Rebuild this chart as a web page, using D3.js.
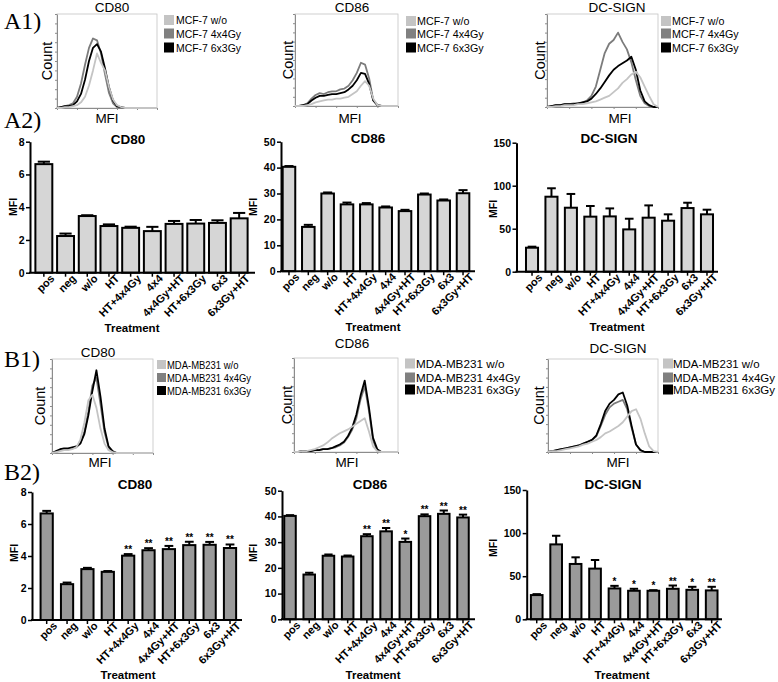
<!DOCTYPE html>
<html><head><meta charset="utf-8">
<script src="https://cdn.jsdelivr.net/npm/d3@7"></script>
<style>body{margin:0;background:#fff}svg{display:block}</style>
</head><body>
<svg id="c" width="778" height="682"></svg>
<script>
// ---------- DATA ----------
const treatments = ["pos","neg","w/o","HT","HT+4x4Gy","4x4","4x4Gy+HT","HT+6x3Gy","6x3","6x3Gy+HT"];

// A2: MCF-7
const mcfCD80    = [6.63, 2.24, 3.46, 2.85, 2.74, 2.54, 2.98, 3.00, 3.04, 3.32];
const mcfCD80Err = [0.15, 0.15, 0.05, 0.10, 0.07, 0.26, 0.18, 0.22, 0.16, 0.33];
const mcfCD86    = [40.3, 17.1, 30.0, 25.8, 25.8, 24.6, 23.2, 29.6, 27.3, 30.1];
const mcfCD86Err = [0.3, 0.8, 0.4, 0.7, 0.5, 0.4, 0.5, 0.4, 0.4, 1.2];
const mcfDC      = [27.9, 87.2, 74.4, 64.0, 64.3, 49.2, 62.8, 59.3, 74.0, 66.7];
const mcfDCErr   = [1.2, 9.8, 16.0, 12.4, 9.3, 12.4, 14.3, 7.4, 6.2, 5.4];

// B2: MDA-MB231
const mdaCD80    = [6.66, 2.24, 3.18, 3.01, 4.02, 4.36, 4.43, 4.68, 4.70, 4.50];
const mdaCD80Err = [0.16, 0.10, 0.08, 0.05, 0.10, 0.13, 0.20, 0.21, 0.18, 0.22];
const mdaCD80Sig = ["","","","","**","**","**","**","**","**"];
const mdaCD86    = [40.2, 17.4, 24.7, 24.4, 32.3, 34.2, 30.1, 40.1, 41.0, 39.6];
const mdaCD86Err = [0.3, 0.7, 0.5, 0.4, 0.8, 1.3, 1.3, 0.7, 1.3, 1.1];
const mdaCD86Sig = ["","","","","**","**","*","**","**","**"];
const mdaDC      = [28.1, 86.9, 64.2, 58.8, 35.8, 33.1, 33.1, 35.4, 34.2, 33.5];
const mdaDCErr   = [1.1, 10.0, 7.7, 10.0, 3.0, 2.3, 0.7, 3.8, 3.5, 4.2];
const mdaDCSig   = ["","","","","*","*","*","**","*","**"];

const tick8 = [0, 2, 4, 6, 8];
const tick50 = [0, 10, 20, 30, 40, 50];
const tick150 = [0, 50, 100, 150];

// Histogram bins (relative MFI) and counts (relative, %)
const mfiBins = [0,4,8,12,16,20,24,28,32,36,40,44,48,52,56,60,64,68,72,76,80,84,88,92,96,100];

const mcfLegend = ["MCF-7 w/o", "MCF-7 4x4Gy", "MCF-7 6x3Gy"];
const mdaLegend = ["MDA-MB231 w/o", "MDA-MB231 4x4Gy", "MDA-MB231 6x3Gy"];

// A1 CD80
const a1CD80Wo  = [0,0,1,1,2,3,6,12,24,40,58,48,40,22,9,3,1,0,0,0,0,0,0,0,0,0];
const a1CD80G4  = [0,1,2,3,5,12,26,46,64,74,72,58,36,16,5,1,0,0,0,0,0,0,0,0,0,0];
const a1CD80G6  = [0,1,2,2,3,7,15,30,50,64,68,60,42,22,8,2,1,0,0,0,0,0,0,0,0,0];
// A1 CD86
const a1CD86Wo  = [0,0,0,1,2,4,5,6,7,7,8,8,9,10,13,16,22,27,22,8,1,0,0,0,0,0];
const a1CD86G4  = [0,0,1,3,8,12,14,13,15,16,16,18,19,22,28,36,47,45,30,6,1,0,0,0,0,0];
const a1CD86G6  = [0,0,1,2,6,9,11,11,12,13,13,14,15,18,22,28,36,35,24,6,1,0,0,0,0,0];
// A1 DC-SIGN
const a1DCWo    = [0,0,1,1,2,2,2,3,3,4,5,6,8,10,12,16,20,26,30,35,38,32,22,12,3,0];
const a1DCG4    = [0,1,2,2,3,3,4,4,5,7,12,22,40,58,68,72,80,70,62,48,29,12,4,1,0,0];
const a1DCG6    = [0,1,2,2,3,3,3,4,5,6,9,14,20,27,34,40,44,47,50,54,40,18,6,2,0,0];
// B1 CD80
const b1CD80Wo  = [0,1,2,3,3,4,6,14,32,56,62,48,26,10,3,1,0,0,0,0,0,0,0,0,0,0];
const b1CD80G4  = [0,1,3,4,4,5,6,10,22,44,72,80,52,22,6,1,0,0,0,0,0,0,0,0,0,0];
const b1CD80G6  = [0,2,4,5,5,6,7,10,20,40,66,88,60,26,7,2,0,0,0,0,0,0,0,0,0,0];
// B1 CD86
const b1CD86Wo  = [0,0,1,1,2,3,5,7,10,14,17,20,22,24,27,30,33,36,22,6,1,0,0,0,0,0];
const b1CD86G4  = [0,0,1,1,1,2,2,3,3,4,5,7,10,16,24,36,56,70,44,12,2,0,0,0,0,0];
const b1CD86G6  = [0,0,1,1,1,2,2,3,3,4,6,8,11,17,26,40,60,76,48,15,3,0,0,0,0,0];
// B1 DC-SIGN
const b1DCWo    = [0,1,1,2,3,4,5,6,8,9,11,13,16,20,22,25,28,32,38,44,46,36,20,6,1,0];
const b1DCG4    = [0,1,2,3,4,5,6,7,9,11,13,17,28,40,48,52,54,56,46,26,8,2,0,0,0,0];
const b1DCG6    = [0,1,2,3,4,5,6,7,9,11,13,18,30,44,52,56,62,64,50,28,8,2,0,0,0,0];

// ---------- DRAWING ----------
const FONT = "'Liberation Sans', Arial, Helvetica, sans-serif";
const svg = d3.select("#c");
svg.append("rect").attr("width",778).attr("height",682).attr("fill","#fff");

function panelLabel(txt, x, y){
  svg.append("text").attr("x",x).attr("y",y).text(txt)
    .attr("font-family","'Liberation Serif','Times New Roman',serif").attr("font-size",24).attr("fill","#000");
}
panelLabel("A1)", 4, 29);
panelLabel("A2)", 4, 128);
panelLabel("B1)", 4, 367);
panelLabel("B2)", 4, 480);

function histPanel(c){
  const g = svg.append("g");
  const x = d3.scaleLinear().domain([0,100]).range([c.l, c.r]);
  const y = d3.scaleLinear().domain([0,100]).range([c.b, c.t]);
  g.append("rect").attr("x",c.l).attr("y",c.t).attr("width",c.r-c.l).attr("height",c.b-c.t)
    .attr("fill","none").attr("stroke","#c4c4c4").attr("stroke-width",0.8);
  const ya = g.append("g").attr("transform",`translate(${c.l},0)`)
    .call(d3.axisLeft(y).ticks(10).tickSize(2).tickSizeOuter(0).tickFormat(""));
  const xa = g.append("g").attr("transform",`translate(0,${c.b})`)
    .call(d3.axisBottom(x).ticks(5).tickSize(2).tickSizeOuter(0).tickFormat(""));
  [ya, xa].forEach(a=>{ a.select(".domain").attr("stroke","#8c8c8c"); a.selectAll(".tick line").attr("stroke","#8c8c8c"); });
  const line = d3.line().x((d,i)=>x(mfiBins[i])).y(d=>y(d)).curve(d3.curveLinear);
  const series = [
    {d:c.g4, col:"#7c7c7c"},
    {d:c.g6, col:"#000000"},
    {d:c.wo, col:"#c4c4c4"}
  ];
  series.forEach(s=>{
    g.append("path").datum(s.d).attr("d",line).attr("fill","none")
      .attr("stroke",s.col).attr("stroke-width",1.8).attr("stroke-linejoin","round");
  });
  g.append("text").attr("x",c.titleX).attr("y",c.titleY).attr("text-anchor","middle")
    .attr("font-family",FONT).attr("font-size",13.5).text(c.title);
  g.append("text").attr("transform",`translate(${c.countX},${(c.t+c.b)/2}) rotate(-90)`)
    .attr("text-anchor","middle").attr("dominant-baseline","central")
    .attr("font-family",FONT).attr("font-size",14.5).text("Count");
  g.append("text").attr("x",c.mfiX).attr("y",c.mfiY).attr("text-anchor","middle")
    .attr("font-family",FONT).attr("font-size",13.5).text("MFI");
  // legend
  const cols = ["#c4c4c4","#808080","#000000"];
  const texts = [];
  c.legend.forEach((lab,i)=>{
    const cy = c.legRows[i];
    g.append("rect").attr("x",c.swX).attr("y",cy-c.sw/2).attr("width",c.sw).attr("height",c.sw).attr("fill",cols[i]);
    texts.push(g.append("text").attr("x",c.txtX).attr("y",cy).attr("dominant-baseline","central")
      .attr("font-family",FONT).attr("font-size",c.legFont).text(lab));
  });
  const ref = texts[1].node().getComputedTextLength();
  const k = c.legW / ref;
  texts.forEach(t=>{
    const L = t.node().getComputedTextLength();
    t.attr("textLength", L*k).attr("lengthAdjust","spacingAndGlyphs");
  });
}

function barChart(c){
  const g = svg.append("g");
  const x = d3.scaleBand().domain(treatments).range(c.band).paddingInner(c.pad).paddingOuter(c.pad/2);
  const y = d3.scaleLinear().domain([0,c.max]).range([c.yBase, c.yTop]);
  const data = treatments.map((t,i)=>({t, v:c.values[i], e:c.errs[i], s:c.sig ? c.sig[i] : ""}));
  // bars
  g.selectAll("rect.bar").data(data).enter().append("rect")
    .attr("x",d=>x(d.t)).attr("width",x.bandwidth())
    .attr("y",d=>y(d.v)).attr("height",d=>c.yBase - y(d.v))
    .attr("fill",c.fill).attr("stroke","#000").attr("stroke-width",2);
  // error bars
  const cw = x.bandwidth()*0.72;
  data.forEach(d=>{
    const cx = x(d.t) + x.bandwidth()/2;
    g.append("line").attr("x1",cx).attr("x2",cx).attr("y1",y(d.v)).attr("y2",y(d.v+d.e))
      .attr("stroke","#000").attr("stroke-width",2);
    g.append("line").attr("x1",cx-cw/2).attr("x2",cx+cw/2).attr("y1",y(d.v+d.e)).attr("y2",y(d.v+d.e))
      .attr("stroke","#000").attr("stroke-width",2);
    if (d.s) g.append("text").attr("x",cx).attr("y",y(d.v+d.e)-1).attr("text-anchor","middle")
      .attr("font-family",FONT).attr("font-weight","bold").attr("font-size",10).text(d.s);
  });
  // y axis
  const ya = g.append("g").attr("transform",`translate(${c.axisX},0)`)
    .call(d3.axisLeft(y).tickValues(c.ticks).tickSize(4).tickSizeOuter(0).tickPadding(1.5));
  ya.select(".domain").attr("stroke-width",2);
  ya.selectAll(".tick line").attr("stroke-width",1.5);
  ya.selectAll("text").attr("font-family",FONT).attr("font-weight","bold").attr("font-size",10.5).attr("fill","#000");
  // x axis
  g.append("line").attr("x1",c.axisX-1).attr("x2",c.axisEnd).attr("y1",c.yBase).attr("y2",c.yBase)
    .attr("stroke","#000").attr("stroke-width",2);
  const xa = g.append("g").attr("transform",`translate(0,${c.yBase})`)
    .call(d3.axisBottom(x).tickSize(4).tickSizeOuter(0).tickPadding(3));
  xa.select(".domain").remove();
  xa.selectAll(".tick line").attr("stroke-width",1.5);
  xa.selectAll("text").attr("font-family",FONT).attr("font-weight","bold").attr("font-size",11)
    .attr("text-anchor","end").attr("dx","0.3em").attr("dy","0.5em")
    .attr("transform","rotate(-45)").attr("fill","#000");
  // labels
  g.append("text").attr("x",c.titleX).attr("y",c.titleY).attr("text-anchor","middle")
    .attr("font-family",FONT).attr("font-weight","bold").attr("font-size",13.5).text(c.title);
  g.append("text").attr("x",c.trX).attr("y",c.trY).attr("text-anchor","middle")
    .attr("font-family",FONT).attr("font-weight","bold").attr("font-size",11.5).text("Treatment");
  g.append("text").attr("transform",`translate(${c.mfiX},${c.mfiY}) rotate(-90)`)
    .attr("text-anchor","middle").attr("dominant-baseline","central")
    .attr("font-family",FONT).attr("font-weight","bold").attr("font-size",10.5).text("MFI");
}

// ---- A1 histograms ----
histPanel({l:57,r:157,t:14,b:108,title:"CD80",titleX:112,titleY:12,countX:47,mfiX:107,mfiY:123,
  wo:a1CD80Wo,g4:a1CD80G4,g6:a1CD80G6,legend:mcfLegend,swX:164,sw:10,txtX:176,legRows:[20,33.5,47.5],legFont:11.5,legW:65});
histPanel({l:295,r:398,t:14,b:106,title:"CD86",titleX:352,titleY:12,countX:288,mfiX:350,mfiY:123,
  wo:a1CD86Wo,g4:a1CD86G4,g6:a1CD86G6,legend:mcfLegend,swX:406,sw:10,txtX:417,legRows:[21,33.5,47.5],legFont:11.5,legW:66.7});
histPanel({l:547,r:658,t:14,b:107,title:"DC-SIGN",titleX:617,titleY:12,countX:540,mfiX:620,mfiY:123,
  wo:a1DCWo,g4:a1DCG4,g6:a1DCG6,legend:mcfLegend,swX:661,sw:10,txtX:672,legRows:[21,33.5,47.5],legFont:11.5,legW:66.7});

// ---- B1 histograms ----
histPanel({l:52,r:153,t:359,b:453,title:"CD80",titleX:98,titleY:357,countX:40,mfiX:100,mfiY:467,
  wo:b1CD80Wo,g4:b1CD80G4,g6:b1CD80G6,legend:mdaLegend,swX:157,sw:9,txtX:167,legRows:[364.5,377.5,390.5],legFont:11,legW:84});
histPanel({l:294,r:398,t:358,b:452,title:"CD86",titleX:352,titleY:348,countX:287,mfiX:347,mfiY:467,
  wo:b1CD86Wo,g4:b1CD86G4,g6:b1CD86G6,legend:mdaLegend,swX:405,sw:10,txtX:416,legRows:[363.5,377.5,389.5],legFont:11.5,legW:104});
histPanel({l:548,r:658,t:359,b:452,title:"DC-SIGN",titleX:618,titleY:353,countX:539,mfiX:618,mfiY:467,
  wo:b1DCWo,g4:b1DCG4,g6:b1DCG6,legend:mdaLegend,swX:663,sw:10,txtX:673,legRows:[363.5,377.5,389.5],legFont:11.5,legW:102});

// ---- A2 bar charts ----
barChart({axisX:30,axisEnd:255,band:[33,250],pad:0.22,yBase:272.7,yTop:141.7,max:8,ticks:tick8,
  values:mcfCD80,errs:mcfCD80Err,fill:"#d6d6d6",title:"CD80",titleX:128,titleY:144,trX:132,trY:332,mfiX:13,mfiY:207});
barChart({axisX:281,axisEnd:475,band:[279.3,472.7],pad:0.35,yBase:271.2,yTop:141.7,max:50,ticks:tick50,
  values:mcfCD86,errs:mcfCD86Err,fill:"#d6d6d6",title:"CD86",titleX:368,titleY:143,trX:373,trY:331,mfiX:253,mfiY:207});
barChart({axisX:516.5,axisEnd:718,band:[522.3,716.7],pad:0.38,yBase:271.7,yTop:142.7,max:150,ticks:tick150,
  values:mcfDC,errs:mcfDCErr,fill:"#d6d6d6",title:"DC-SIGN",titleX:609,titleY:143,trX:617,trY:331,mfiX:493,mfiY:209});

// ---- B2 bar charts ----
barChart({axisX:32,axisEnd:242,band:[36.5,240.2],pad:0.4,yBase:620,yTop:492,max:8,ticks:tick8,
  values:mdaCD80,errs:mdaCD80Err,sig:mdaCD80Sig,fill:"#9a9a9a",title:"CD80",titleX:135,titleY:489,trX:128,trY:679,mfiX:14,mfiY:553});
barChart({axisX:282,axisEnd:475,band:[280.4,472.6],pad:0.4,yBase:619.3,yTop:490.7,max:50,ticks:tick50,
  values:mdaCD86,errs:mdaCD86Err,sig:mdaCD86Sig,fill:"#9a9a9a",title:"CD86",titleX:370,titleY:489,trX:373,trY:679,mfiX:253,mfiY:553});
barChart({axisX:526.7,axisEnd:722,band:[527,721.4],pad:0.4,yBase:619.3,yTop:490,max:150,ticks:tick150,
  values:mdaDC,errs:mdaDCErr,sig:mdaDCSig,fill:"#9a9a9a",title:"DC-SIGN",titleX:613,titleY:489,trX:622,trY:679,mfiX:493,mfiY:548});
</script>
</body></html>
